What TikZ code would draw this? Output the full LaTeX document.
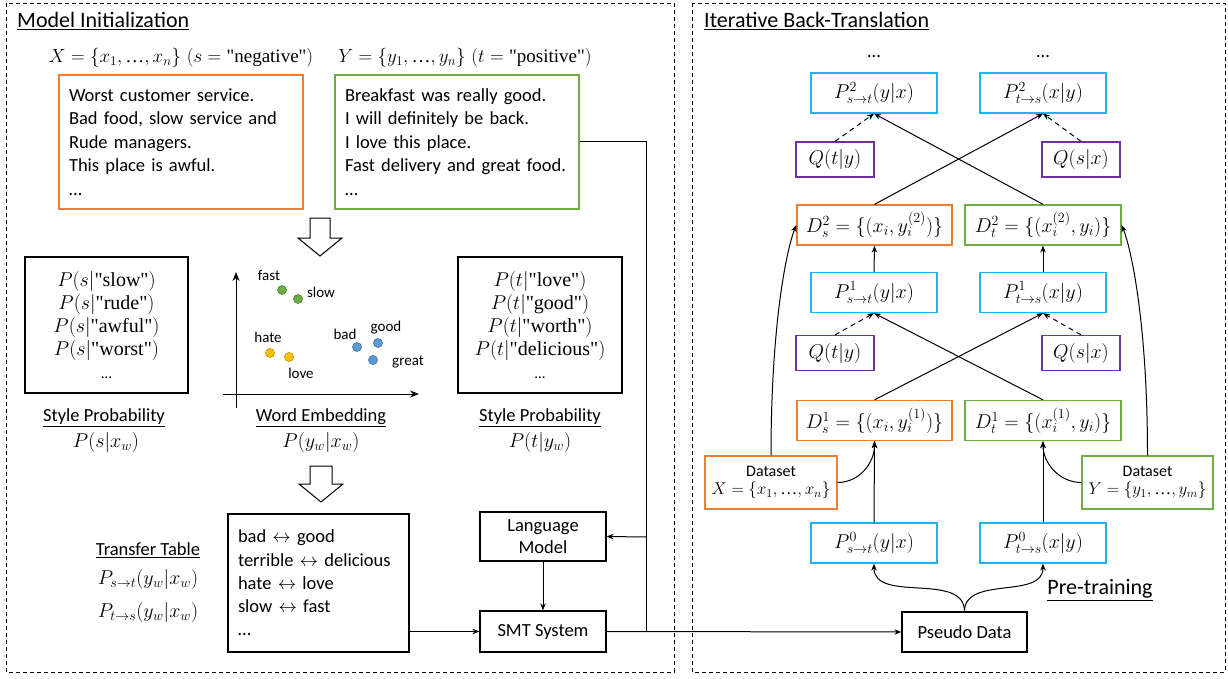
\RequirePackage{fix-cm}
\documentclass[tikz,border=0pt]{standalone}
\usepackage{fontspec}
\setsansfont{Carlito}
\newfontfamily\qf{Liberation Serif}
\usetikzlibrary{arrows.meta}
\definecolor{oc}{RGB}{237,125,49}
\definecolor{gc}{RGB}{112,173,71}
\definecolor{cc}{RGB}{30,180,235}
\definecolor{pc}{RGB}{112,48,160}
\definecolor{dotgf}{RGB}{112,173,71}
\definecolor{dotgd}{RGB}{75,125,45}
\definecolor{dotof}{RGB}{255,192,0}
\definecolor{dotod}{RGB}{190,140,0}
\definecolor{dotbf}{RGB}{91,155,213}
\definecolor{dotbd}{RGB}{60,110,160}
\newcommand{\fs}[2]{\fontsize{#1}{#2}\selectfont}
\newcommand{\qt}[1]{\mbox{\qf\char"22 #1\char"22}}
\newcommand{\el}{\mbox{\qf\char"2026}}
\begin{document}
\begin{tikzpicture}[x=1pt,y=-1pt,
  panel/.style={draw, dashed, dash pattern=on 4pt off 3pt, line width=0.9pt},
  box/.style={draw, line width=1.3pt, inner sep=0pt, align=center},
  txt/.style={font=\sffamily\fs{18.5}{23.5}},
  ttl/.style={font=\sffamily\fs{22}{26}},
  mth/.style={font=\fs{20}{23}},
  hmth/.style={font=\fs{19}{23}},
  lab/.style={font=\sffamily\fs{15}{18}},
  arr/.style={-{Stealth[length=7pt,width=5.5pt]}, line width=1pt},
  axarr/.style={-{Stealth[length=9pt,width=7pt]}, line width=1pt},
  dsh/.style={arr, dashed, dash pattern=on 5pt off 4pt},
  lin/.style={line width=1pt},
  hollow/.style={draw, line width=1pt, fill=white},
  pb/.style={box, draw=cc, mth, minimum width=126pt, minimum height=40pt},
  qb/.style={box, draw=pc, mth, minimum width=78pt, minimum height=35pt},
  dsb/.style={box, draw=oc, mth, minimum width=155pt, minimum height=40pt},
  dtb/.style={box, draw=gc, mth, minimum width=156pt, minimum height=40pt},
  sentbox/.style={box, txt, text width=224pt, inner xsep=10pt, align=left, minimum height=134pt}
]
\useasboundingbox (0,0) rectangle (1228,679);
% panels
\draw[panel] (6,3) rectangle (674,672);
\draw[panel] (692,3) rectangle (1225,672);
\node[ttl, anchor=base west, inner sep=0pt] (t1) at (17,28) {\underline{Model Initialization}};
\node[ttl, anchor=base west, inner sep=0pt] (t2) at (704,28) {\underline{Iterative Back-Translation}};

% ===== Model initialization =====
\node[hmth] (hx) at (181,58) {$X=\{x_1,\el,x_n\}\ (s=\qt{negative})$};
\node[hmth] (hy) at (465,58) {$Y=\{y_1,\el,y_n\}\ (t=\qt{positive})$};

\node[sentbox, draw=oc] (neg) at (181,142)
  {Worst customer service.\\Bad food, slow service and\\Rude managers.\\This place is awful.\\\ldots\par\vspace{8pt}};
\node[sentbox, draw=gc] (pos) at (457,142)
  {Breakfast was really good.\\I will definitely be back.\\I love this place.\\\mbox{Fast delivery and great food.}\\\ldots\par\vspace{8pt}};

% hollow arrows
\draw[hollow] (310,218) -- (330,218) -- (330,238) -- (342,238) -- (320,256) -- (298,238) -- (310,238) -- cycle;
\draw[hollow] (310,466) -- (332,466) -- (332,484) -- (343,484) -- (321,502) -- (299,484) -- (310,484) -- cycle;

% style probability boxes
\node[box, mth, minimum width=163pt, minimum height=136pt] (spl) at (106.5,325)
  {$P(s|\qt{slow})$\\$P(s|\qt{rude})$\\$P(s|\qt{awful})$\\$P(s|\qt{worst})$\\{\sffamily\fs{15}{23}\ldots}};
\node[txt] (spll) at (104,418) {\underline{Style Probability}};
\node[mth] (splm) at (106,442) {$P(s|x_w)$};

\node[box, mth, minimum width=164pt, minimum height=136pt] (spr) at (540,325)
  {$P(t|\qt{love})$\\$P(t|\qt{good})$\\$P(t|\qt{worth})$\\$P(t|\qt{delicious})$\\{\sffamily\fs{15}{23}\ldots}};
\node[txt] (sprl) at (540,418) {\underline{Style Probability}};
\node[mth] (sprm) at (540,442) {$P(t|y_w)$};

% word embedding
\coordinate (ay0) at (236,408);
\coordinate (ay1) at (236,272);
\coordinate (ax0) at (223,394);
\coordinate (ax1) at (419,394);
\draw[axarr] (ay0) -- (ay1);
\draw[axarr] (ax0) -- (ax1);
\filldraw[fill=dotgf, draw=dotgd, line width=0.6pt] (282,290) circle (4.5pt);
\filldraw[fill=dotgf, draw=dotgd, line width=0.6pt] (298,299) circle (4.5pt);
\filldraw[fill=dotof, draw=dotod, line width=0.6pt] (270,353) circle (4.5pt);
\filldraw[fill=dotof, draw=dotod, line width=0.6pt] (289,357) circle (4.5pt);
\filldraw[fill=dotbf, draw=dotbd, line width=0.6pt] (357,347) circle (4.5pt);
\filldraw[fill=dotbf, draw=dotbd, line width=0.6pt] (378,343) circle (4.5pt);
\filldraw[fill=dotbf, draw=dotbd, line width=0.6pt] (373,360) circle (4.5pt);
\node[lab] (lfast) at (269,275) {fast};
\node[lab] (lslow) at (321,292) {slow};
\node[lab] (lhate) at (268,337) {hate};
\node[lab] (llove) at (301,373) {love};
\node[lab] (lbad) at (345,334) {bad};
\node[lab] (lgood) at (386,328) {good};
\node[lab] (lgreat) at (408,362) {great};
\node[txt] (wel) at (321,418) {\underline{Word Embedding}};
\node[mth] (wem) at (321,442) {$P(y_w|x_w)$};

% transfer table
\node[txt] (ttl) at (148,550) {\underline{Transfer Table}};
\node[mth] (tt1) at (148,579) {$P_{s\to t}(y_w|x_w)$};
\node[mth] (tt2) at (148,612) {$P_{t\to s}(y_w|x_w)$};
\node[box, txt, font=\sffamily\fs{18.5}{23.25}, text width=161pt, inner xsep=10pt, align=left, minimum height=138pt] (tt) at (318.5,583)
  {bad $\leftrightarrow$ good\\terrible $\leftrightarrow$ delicious\\hate $\leftrightarrow$ love\\slow $\leftrightarrow$ fast\\\ldots\par\vspace{7pt}};

\node[box, font=\sffamily\fs{18.5}{22}, minimum width=126pt, minimum height=49pt] (lm) at (543,536.5) {Language\\Model};
\node[box, txt, minimum width=126pt, minimum height=41pt] (smt) at (543,631.5) {SMT System};

\draw[arr] (lm.south) -- (smt.north);
\draw[arr] (tt.east |- smt.west) -- (smt.west);

\coordinate (ja) at (646,142);
\coordinate (jb) at (646,632);
\coordinate (jc) at (646,537);
\draw[lin] (pos.east) -- (ja) -- (jb);
\draw[arr] (jc) -- (lm.east);

% ===== Iterative back-translation =====
\node[txt] (dd1) at (874,57) {\ldots};
\node[txt] (dd2) at (1043,57) {\ldots};

\node[pb] (p2a) at (874,93) {$P^2_{s\to t}(y|x)$};
\node[pb] (p2b) at (1043,93) {$P^2_{t\to s}(x|y)$};
\node[qb] (q2a) at (835,159.5) {$Q(t|y)$};
\node[qb] (q2b) at (1081,159.5) {$Q(s|x)$};
\node[dsb] (d2a) at (874.5,225) {$D^2_s=\{(x_i,y_i^{(2)})\}$};
\node[dtb] (d2b) at (1043,225) {$D^2_t=\{(x_i^{(2)},y_i)\}$};
\node[pb] (p1a) at (874,292.5) {$P^1_{s\to t}(y|x)$};
\node[pb] (p1b) at (1043,292.5) {$P^1_{t\to s}(x|y)$};
\node[qb] (q1a) at (835,353) {$Q(t|y)$};
\node[qb] (q1b) at (1081,353) {$Q(s|x)$};
\node[dsb] (d1a) at (874.5,420.5) {$D^1_s=\{(x_i,y_i^{(1)})\}$};
\node[dtb] (d1b) at (1043,420.5) {$D^1_t=\{(x_i^{(1)},y_i)\}$};
\node[box, draw=oc, minimum width=132pt, minimum height=53pt] (dsx) at (771,482.5)
  {{\sffamily\fs{16}{20}Dataset}\\[5pt]{\fs{17}{20}$X=\{x_1,\el,x_n\}$}};
\node[box, draw=gc, minimum width=131pt, minimum height=53pt] (dsy) at (1147.5,482.5)
  {{\sffamily\fs{16}{20}Dataset}\\[5pt]{\fs{17}{20}$Y=\{y_1,\el,y_m\}$}};
\node[pb] (p0a) at (874,543) {$P^0_{s\to t}(y|x)$};
\node[pb] (p0b) at (1043,543) {$P^0_{t\to s}(x|y)$};
\node[box, txt, minimum width=125pt, minimum height=40pt] (pd) at (964.5,632) {Pseudo Data};
\node[ttl] (ptl) at (1100,590) {\underline{Pre-training}};

\draw[arr] (smt.east) -- (pd.west);

% crossing arrows
\draw[arr] (d2a.north) -- (p2b.south);
\draw[arr] (d2b.north) -- (p2a.south);
\draw[arr] (d1a.north) -- (p1b.south);
\draw[arr] (d1b.north) -- (p1a.south);
\draw[dsh] (q2a.north) -- (p2a.south);
\draw[dsh] (q2b.north) -- (p2b.south);
\draw[dsh] (q1a.north) -- (p1a.south);
\draw[dsh] (q1b.north) -- (p1b.south);
\draw[arr] (p1a.north) -- (d2a.south);
\draw[arr] (p1b.north) -- (d2b.south);
\draw[arr] (p0a.north) -- (d1a.south);
\draw[arr] (p0b.north) -- (d1b.south);

% curved arrows
\draw[arr] (dsx.east) to[out=0,in=-90] (d1a.south);
\draw[arr] (dsy.west) to[out=180,in=-90] (d1b.south);
\draw[arr] (dsx.north) .. controls +(0,-130) and +(-10,25) .. (d2a.west);
\draw[arr] (dsy.north) .. controls +(0,-130) and +(10,25) .. (d2b.east);
\draw[arr] (pd.north) to[out=90,in=-90] (p0a.south);
\draw[arr] (pd.north) to[out=90,in=-90] (p0b.south);
\end{tikzpicture}
\end{document}
